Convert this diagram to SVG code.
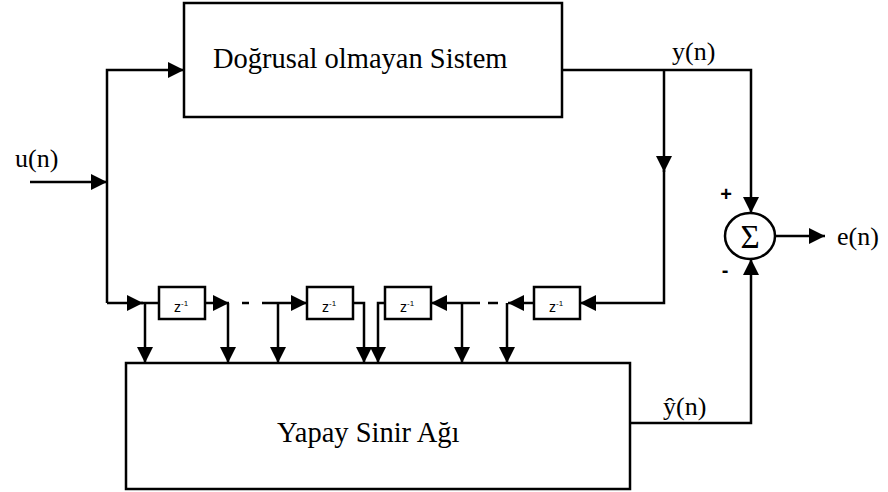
<svg xmlns="http://www.w3.org/2000/svg" width="888" height="492" viewBox="0 0 888 492">
<style>
.box{fill:#fff;stroke:#000;stroke-width:2.5}
.zb{fill:#fff;stroke:#000;stroke-width:2.5}
.ln{fill:none;stroke:#000;stroke-width:2.5}
.t{font-family:"Liberation Serif","Times New Roman",serif;fill:#000}
.z{font-family:"Liberation Sans",Arial,sans-serif;fill:#000}
.s{font-family:"Liberation Sans",Arial,sans-serif;font-weight:bold;fill:#000}
</style>
<defs>
<marker id="ah" viewBox="0 0 16 16" refX="16" refY="8" markerWidth="16" markerHeight="16" markerUnits="userSpaceOnUse" orient="auto">
<path d="M0,0 L16,8 L0,16 z" fill="#000"/>
</marker>
</defs>
<rect width="888" height="492" fill="#fff"/>
<g id="connectors">
<path class="ln" d="M30,182 L107,182" marker-end="url(#ah)"/>
<path class="ln" d="M107,303 L107,70 L184,70" marker-end="url(#ah)"/>
<path class="ln" d="M107,303 L143,303" marker-end="url(#ah)"/>
<path class="ln" d="M141,303 L159,303"/>
<path class="ln" d="M145,303 L145,363" marker-end="url(#ah)"/>
<path class="ln" d="M205,303 L229,303" marker-end="url(#ah)"/>
<path class="ln" d="M228,303 L228,363" marker-end="url(#ah)"/>
<path class="ln" d="M242,303 L249,303"/>
<path class="ln" d="M262,303 L307,303" marker-end="url(#ah)"/>
<path class="ln" d="M278,303 L278,363" marker-end="url(#ah)"/>
<path class="ln" d="M353,303 L364,303 L364,363" marker-end="url(#ah)"/>
<path class="ln" d="M385,303 L378,303 L378,363" marker-end="url(#ah)"/>
<path class="ln" d="M480,303 L431,303" marker-end="url(#ah)"/>
<path class="ln" d="M462,303 L462,363" marker-end="url(#ah)"/>
<path class="ln" d="M488,303 L498,303"/>
<path class="ln" d="M534,303 L508,303" marker-end="url(#ah)"/>
<path class="ln" d="M507,303 L507,363" marker-end="url(#ah)"/>
<path class="ln" d="M562,70 L751,70 L751,213" marker-end="url(#ah)"/>
<path class="ln" d="M664,70 L664,172" marker-end="url(#ah)"/>
<path class="ln" d="M664,170 L664,303 L580,303" marker-end="url(#ah)"/>
<path class="ln" d="M630,423 L751,423 L751,259" marker-end="url(#ah)"/>
<path class="ln" d="M775,236 L825,236" marker-end="url(#ah)"/>
</g>
<g id="sistem">
<rect class="box" x="184" y="3" width="378" height="114"/>
<text class="t" x="213" y="68" font-size="28.5">Doğrusal olmayan Sistem</text>
</g>
<g id="ysa">
<rect class="box" x="126" y="363" width="504" height="126"/>
<text class="t" x="277" y="442" font-size="28.5">Yapay Sinir Ağı</text>
</g>
<g id="z1">
<rect class="zb" x="159" y="287" width="46" height="32"/>
<text class="z" x="174" y="312" font-size="14">z<tspan font-size="8" dy="-6">-1</tspan></text>
</g>
<g id="z2">
<rect class="zb" x="307" y="287" width="46" height="32"/>
<text class="z" x="322" y="312" font-size="14">z<tspan font-size="8" dy="-6">-1</tspan></text>
</g>
<g id="z3">
<rect class="zb" x="385" y="287" width="46" height="32"/>
<text class="z" x="400" y="312" font-size="14">z<tspan font-size="8" dy="-6">-1</tspan></text>
</g>
<g id="z4">
<rect class="zb" x="534" y="287" width="46" height="32"/>
<text class="z" x="549" y="312" font-size="14">z<tspan font-size="8" dy="-6">-1</tspan></text>
</g>
<g id="sum">
<ellipse cx="750" cy="236" rx="25" ry="23" fill="#fff" stroke="#000" stroke-width="2.5"/>
<text class="t" x="750" y="248" font-size="33" text-anchor="middle">Σ</text>
<text class="s" x="726" y="201" font-size="20" text-anchor="middle">+</text>
<text class="s" x="725" y="277" font-size="20" text-anchor="middle">-</text>
</g>
<g id="labels">
<text class="t" x="15" y="167" font-size="26">u(n)</text>
<text class="t" x="672" y="60" font-size="26">y(n)</text>
<text class="t" x="663" y="415" font-size="26">ŷ(n)</text>
<text class="t" x="837" y="245" font-size="26">e(n)</text>
</g>
</svg>
